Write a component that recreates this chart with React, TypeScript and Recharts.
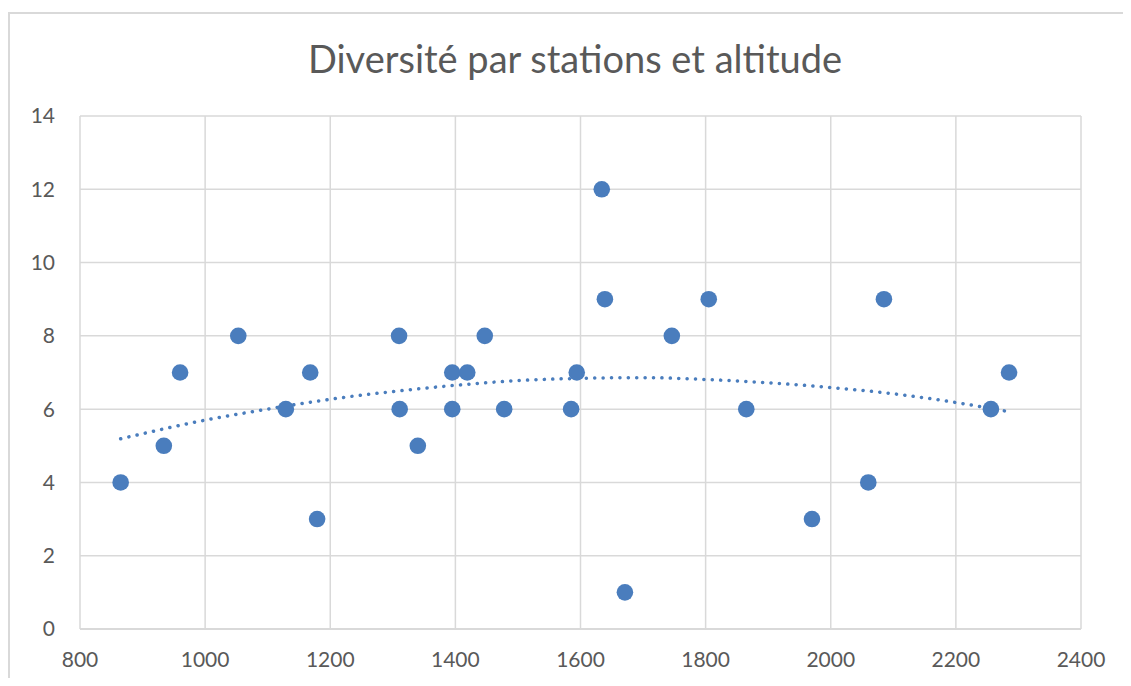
import { ComposedChart, Scatter, Line, XAxis, YAxis, CartesianGrid } from "recharts";

// altitude (m) and species count per station
const altitudes = [865, 934, 960, 1053, 1129, 1168, 1179, 1310, 1311, 1340, 1395, 1395, 1419, 1447, 1478, 1585, 1594, 1634, 1639, 1671, 1746, 1805, 1865, 1970, 2060, 2085, 2256, 2285];
const diversity = [4, 5, 7, 8, 6, 7, 3, 8, 6, 5, 7, 6, 7, 8, 6, 6, 7, 12, 9, 1, 8, 9, 6, 3, 4, 9, 6, 7];

// polynomial trendline
const trendX = [865, 1000, 1100, 1200, 1300, 1400, 1500, 1600, 1700, 1800, 1900, 2000, 2100, 2200, 2285];
const trendY = [5.19, 5.7, 6.0, 6.27, 6.48, 6.65, 6.78, 6.84, 6.86, 6.81, 6.72, 6.59, 6.42, 6.18, 5.93];

const xTicks = [800, 1000, 1200, 1400, 1600, 1800, 2000, 2200, 2400];
const yTicks = [0, 2, 4, 6, 8, 10, 12, 14];

const points = altitudes.map((x, i) => ({ x, y: diversity[i] }));
const trend = trendX.map((x, i) => ({ x, t: trendY[i] }));

const BLUE = "#4a7dbd";
const GRID = "#d9d9d9";
const FONT = "Lato, 'Noto Sans', sans-serif";

const Dot = (props: any) => <circle cx={props.cx} cy={props.cy} r={8.3} fill={BLUE} />;

export default function App() {
  return (
    <div style={{ position: "relative", width: 1123, height: 678, marginBottom: -8, overflow: "hidden", fontFamily: FONT }}>
      <div
        style={{
          position: "absolute",
          left: 0,
          top: 4,
          width: 1140,
          height: 700,
          border: `2px solid ${GRID}`,
          boxSizing: "border-box",
        }}
      />
      <div
        style={{
          position: "absolute",
          left: 0,
          width: 1134,
          top: 27,
          textAlign: "center",
          fontSize: 38,
          color: "#595959",
        }}
      >
        Diversité par stations et altitude
      </div>
      <div style={{ position: "absolute", left: 0, top: 0 }}>
        <ComposedChart width={1115} height={678} margin={{ top: 108, right: 42, left: 0, bottom: 17 }}>
          <CartesianGrid stroke={GRID} strokeWidth={1.5} />
          <XAxis
            type="number"
            dataKey="x"
            domain={[800, 2400]}
            ticks={xTicks}
            height={40}
            tickLine={false}
            tickSize={0}
            tickMargin={23}
            axisLine={{ stroke: GRID, strokeWidth: 2 }}
            tick={{ fill: "#595959", fontSize: 21, fontFamily: FONT }}
            allowDuplicatedCategory={false}
          />
          <YAxis
            type="number"
            domain={[0, 14]}
            ticks={yTicks}
            width={72}
            tickLine={false}
            tickSize={0}
            tickMargin={25}
            axisLine={false}
            tick={{ fill: "#595959", fontSize: 21, fontFamily: FONT }}
          />
          <Line
            data={trend}
            dataKey="t"
            type="monotone"
            stroke={BLUE}
            strokeWidth={3.5}
            strokeDasharray="0.1 8.3"
            strokeLinecap="round"
            dot={false}
            activeDot={false}
            isAnimationActive={false}
          />
          <Scatter data={points} dataKey="y" shape={<Dot />} isAnimationActive={false} />
        </ComposedChart>
      </div>
    </div>
  );
}
